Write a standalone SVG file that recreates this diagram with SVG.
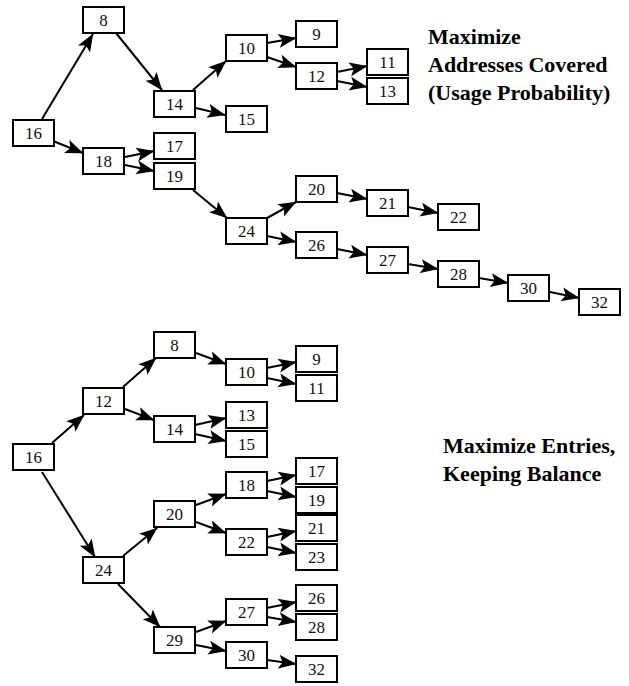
<svg xmlns="http://www.w3.org/2000/svg" width="629" height="686" viewBox="0 0 629 686" font-family="Liberation Serif, Tinos, Times New Roman, serif">
<style>
.box rect{fill:#fff;stroke:#000;stroke-width:2}
.box text{font-family:"Liberation Serif",Tinos,"Times New Roman",Times,serif;font-size:17px;text-anchor:middle;fill:#111}
.lbl{font-family:"Liberation Serif",Tinos,"Times New Roman",Times,serif;font-size:22px;font-weight:bold;fill:#000}
#edges line{stroke:#000;stroke-width:2}
</style>
<defs>
<marker id="ah" viewBox="0 0 18 16" markerUnits="userSpaceOnUse" markerWidth="18" markerHeight="16" refX="17.5" refY="8" orient="auto">
<path d="M0,1 L18,8 L0,15 L4,8 z" fill="#000"/>
</marker>
</defs>
<rect width="629" height="686" fill="#fff"/>
<g id="edges" marker-end="url(#ah)">
<line x1="42" y1="119" x2="93" y2="34" marker-end="url(#ah)"/>
<line x1="116" y1="33" x2="162" y2="90" marker-end="url(#ah)"/>
<line x1="193" y1="90" x2="226" y2="61" marker-end="url(#ah)"/>
<line x1="196" y1="108" x2="225" y2="115" marker-end="url(#ah)"/>
<line x1="267" y1="43" x2="296" y2="38" marker-end="url(#ah)"/>
<line x1="267" y1="57" x2="296" y2="67" marker-end="url(#ah)"/>
<line x1="53" y1="141" x2="83" y2="153" marker-end="url(#ah)"/>
<line x1="125" y1="157" x2="154" y2="151" marker-end="url(#ah)"/>
<line x1="125" y1="165" x2="154" y2="171" marker-end="url(#ah)"/>
<line x1="337" y1="72" x2="367" y2="66" marker-end="url(#ah)"/>
<line x1="337" y1="81" x2="367" y2="87" marker-end="url(#ah)"/>
<line x1="193" y1="190" x2="227" y2="218" marker-end="url(#ah)"/>
<line x1="267" y1="218" x2="296" y2="202" marker-end="url(#ah)"/>
<line x1="267" y1="236" x2="296" y2="242" marker-end="url(#ah)"/>
<line x1="337" y1="193" x2="367" y2="199" marker-end="url(#ah)"/>
<line x1="408" y1="207" x2="438" y2="213" marker-end="url(#ah)"/>
<line x1="337" y1="249" x2="367" y2="255" marker-end="url(#ah)"/>
<line x1="408" y1="264" x2="438" y2="269" marker-end="url(#ah)"/>
<line x1="479" y1="278" x2="508" y2="283" marker-end="url(#ah)"/>
<line x1="550" y1="292" x2="579" y2="298" marker-end="url(#ah)"/>
<line x1="52" y1="443" x2="84" y2="415" marker-end="url(#ah)"/>
<line x1="123" y1="387" x2="156" y2="358" marker-end="url(#ah)"/>
<line x1="125" y1="409" x2="154" y2="420" marker-end="url(#ah)"/>
<line x1="196" y1="353" x2="226" y2="364" marker-end="url(#ah)"/>
<line x1="267" y1="368" x2="296" y2="362" marker-end="url(#ah)"/>
<line x1="267" y1="378" x2="296" y2="384" marker-end="url(#ah)"/>
<line x1="195" y1="425" x2="226" y2="418" marker-end="url(#ah)"/>
<line x1="195" y1="434" x2="226" y2="441" marker-end="url(#ah)"/>
<line x1="267" y1="481" x2="296" y2="475" marker-end="url(#ah)"/>
<line x1="267" y1="491" x2="296" y2="497" marker-end="url(#ah)"/>
<line x1="196" y1="505" x2="226" y2="494" marker-end="url(#ah)"/>
<line x1="196" y1="522" x2="226" y2="533" marker-end="url(#ah)"/>
<line x1="267" y1="537" x2="296" y2="531" marker-end="url(#ah)"/>
<line x1="267" y1="547" x2="296" y2="553" marker-end="url(#ah)"/>
<line x1="42" y1="472" x2="95" y2="557" marker-end="url(#ah)"/>
<line x1="123" y1="556" x2="157" y2="528" marker-end="url(#ah)"/>
<line x1="118" y1="584" x2="160" y2="627" marker-end="url(#ah)"/>
<line x1="196" y1="632" x2="226" y2="621" marker-end="url(#ah)"/>
<line x1="196" y1="645" x2="226" y2="651" marker-end="url(#ah)"/>
<line x1="267" y1="608" x2="296" y2="602" marker-end="url(#ah)"/>
<line x1="267" y1="617" x2="296" y2="622" marker-end="url(#ah)"/>
<line x1="267" y1="660" x2="296" y2="664" marker-end="url(#ah)"/>
</g>
<g id="t16" class="box"><rect x="13" y="120" width="41" height="26"/><text x="33.5" y="139">16</text></g>
<g id="t8" class="box"><rect x="83" y="7" width="41" height="26"/><text x="103.5" y="26">8</text></g>
<g id="t14" class="box"><rect x="154" y="91" width="41" height="26"/><text x="174.5" y="110">14</text></g>
<g id="t10" class="box"><rect x="226" y="35" width="41" height="26"/><text x="246.5" y="54">10</text></g>
<g id="t15" class="box"><rect x="226" y="106" width="41" height="26"/><text x="246.5" y="125">15</text></g>
<g id="t9" class="box"><rect x="296" y="21" width="41" height="26"/><text x="316.5" y="40">9</text></g>
<g id="t12" class="box"><rect x="296" y="63" width="41" height="26"/><text x="316.5" y="82">12</text></g>
<g id="t11" class="box"><rect x="367" y="49" width="41" height="26"/><text x="387.5" y="68">11</text></g>
<g id="t13" class="box"><rect x="367" y="78" width="41" height="26"/><text x="387.5" y="97">13</text></g>
<g id="t18" class="box"><rect x="83" y="148" width="41" height="26"/><text x="103.5" y="167">18</text></g>
<g id="t17" class="box"><rect x="154" y="133" width="41" height="26"/><text x="174.5" y="152">17</text></g>
<g id="t19" class="box"><rect x="154" y="163" width="41" height="26"/><text x="174.5" y="182">19</text></g>
<g id="t24" class="box"><rect x="226" y="218" width="41" height="26"/><text x="246.5" y="237">24</text></g>
<g id="t20" class="box"><rect x="296" y="176" width="41" height="26"/><text x="316.5" y="195">20</text></g>
<g id="t26" class="box"><rect x="296" y="232" width="41" height="26"/><text x="316.5" y="251">26</text></g>
<g id="t21" class="box"><rect x="367" y="190" width="41" height="26"/><text x="387.5" y="209">21</text></g>
<g id="t22" class="box"><rect x="438" y="204" width="41" height="26"/><text x="458.5" y="223">22</text></g>
<g id="t27" class="box"><rect x="367" y="247" width="41" height="26"/><text x="387.5" y="266">27</text></g>
<g id="t28" class="box"><rect x="438" y="261" width="41" height="26"/><text x="458.5" y="280">28</text></g>
<g id="t30" class="box"><rect x="508" y="275" width="41" height="26"/><text x="528.5" y="294">30</text></g>
<g id="t32" class="box"><rect x="579" y="289" width="41" height="26"/><text x="599.5" y="308">32</text></g>
<g id="b16" class="box"><rect x="13" y="444" width="41" height="26"/><text x="33.5" y="463">16</text></g>
<g id="b12" class="box"><rect x="83" y="388" width="41" height="26"/><text x="103.5" y="407">12</text></g>
<g id="b8" class="box"><rect x="154" y="332" width="41" height="26"/><text x="174.5" y="351">8</text></g>
<g id="b14" class="box"><rect x="154" y="416" width="41" height="26"/><text x="174.5" y="435">14</text></g>
<g id="b10" class="box"><rect x="226" y="359" width="41" height="26"/><text x="246.5" y="378">10</text></g>
<g id="b9" class="box"><rect x="296" y="346" width="41" height="26"/><text x="316.5" y="365">9</text></g>
<g id="b11" class="box"><rect x="296" y="375" width="41" height="26"/><text x="316.5" y="394">11</text></g>
<g id="b13" class="box"><rect x="226" y="402" width="41" height="26"/><text x="246.5" y="421">13</text></g>
<g id="b15" class="box"><rect x="226" y="431" width="41" height="26"/><text x="246.5" y="450">15</text></g>
<g id="b18" class="box"><rect x="226" y="472" width="41" height="26"/><text x="246.5" y="491">18</text></g>
<g id="b17" class="box"><rect x="296" y="458" width="41" height="26"/><text x="316.5" y="477">17</text></g>
<g id="b19" class="box"><rect x="296" y="487" width="41" height="26"/><text x="316.5" y="506">19</text></g>
<g id="b20" class="box"><rect x="154" y="501" width="41" height="26"/><text x="174.5" y="520">20</text></g>
<g id="b22" class="box"><rect x="226" y="529" width="41" height="26"/><text x="246.5" y="548">22</text></g>
<g id="b21" class="box"><rect x="296" y="515" width="41" height="26"/><text x="316.5" y="534">21</text></g>
<g id="b23" class="box"><rect x="296" y="544" width="41" height="26"/><text x="316.5" y="563">23</text></g>
<g id="b24" class="box"><rect x="83" y="557" width="41" height="26"/><text x="103.5" y="576">24</text></g>
<g id="b29" class="box"><rect x="154" y="627" width="41" height="26"/><text x="174.5" y="646">29</text></g>
<g id="b27" class="box"><rect x="226" y="599" width="41" height="26"/><text x="246.5" y="618">27</text></g>
<g id="b30" class="box"><rect x="226" y="642" width="41" height="26"/><text x="246.5" y="661">30</text></g>
<g id="b26" class="box"><rect x="296" y="585" width="41" height="26"/><text x="316.5" y="604">26</text></g>
<g id="b28" class="box"><rect x="296" y="614" width="41" height="26"/><text x="316.5" y="633">28</text></g>
<g id="b32" class="box"><rect x="296" y="656" width="41" height="26"/><text x="316.5" y="675">32</text></g>
<g id="label-top">
<text class="lbl" x="428" y="44">Maximize</text>
<text class="lbl" x="428" y="72">Addresses Covered</text>
<text class="lbl" x="428" y="100">(Usage Probability)</text>
</g>
<g id="label-bottom">
<text class="lbl" x="443" y="453">Maximize Entries,</text>
<text class="lbl" x="443" y="481">Keeping Balance</text>
</g>
</svg>
